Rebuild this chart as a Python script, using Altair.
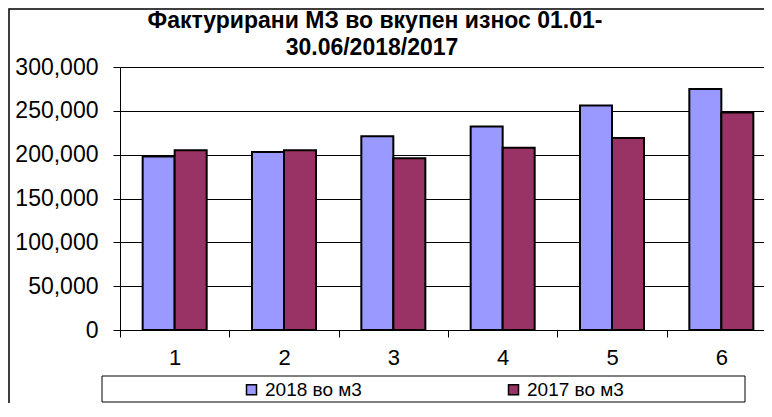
import altair as alt
import pandas as pd

# ---- data ----
months = ["1", "2", "3", "4", "5", "6"]
series_names = ["2018 во м3", "2017 во м3"]
values_2018 = [198000, 203000, 221000, 232000, 256000, 275000]
values_2017 = [205000, 205000, 196000, 208000, 219000, 248000]
series_colors = ["#9999FF", "#993366"]
title_lines = ["Фактурирани МЗ во вкупен износ 01.01-", "30.06/2018/2017"]

rows = []
for m, v in zip(months, values_2018):
    rows.append({"month": m, "series": series_names[0], "value": v})
for m, v in zip(months, values_2017):
    rows.append({"month": m, "series": series_names[1], "value": v})
df = pd.DataFrame(rows)

NARROW = "Liberation Sans Narrow, Arial Narrow, Liberation Sans, sans-serif"
SANS = "Liberation Sans, Arial, sans-serif"

bars = alt.Chart(df).mark_bar(stroke="black", strokeWidth=2).encode(
    x=alt.X(
        "month:N",
        sort=months,
        scale=alt.Scale(paddingInner=0, paddingOuter=0),
        axis=alt.Axis(
            title=None,
            labelAngle=0,
            tickBand="extent",
            tickSize=7,
            tickColor="black",
            domainColor="black",
            labelFont=SANS,
            labelFontSize=22,
            labelColor="black",
            labelPadding=10,
            grid=False,
        ),
    ),
    xOffset=alt.XOffset(
        "series:N",
        sort=series_names,
        scale=alt.Scale(paddingInner=0, paddingOuter=0.708),
    ),
    y=alt.Y(
        "value:Q",
        scale=alt.Scale(domain=[0, 300000], nice=False),
        axis=alt.Axis(
            title=None,
            values=[0, 50000, 100000, 150000, 200000, 250000, 300000],
            format=",d",
            tickSize=7,
            tickColor="black",
            domainColor="black",
            gridColor="black",
            gridWidth=1,
            labelFont=SANS,
            labelFontSize=23,
            labelColor="black",
            labelPadding=15,
        ),
    ),
    color=alt.Color(
        "series:N",
        sort=series_names,
        scale=alt.Scale(domain=series_names, range=series_colors),
        legend=alt.Legend(
            title=None,
            orient="none",
            direction="horizontal",
            legendX=122,
            legendY=313,
            symbolType="square",
            symbolSize=100,
            symbolStrokeColor="black",
            symbolStrokeWidth=1.5,
            labelFont=NARROW,
            labelFontSize=19,
            labelColor="black",
            labelOffset=4,
            columnPadding=142,
            padding=0,
        ),
    ),
)

one = pd.DataFrame({"k": [0]})

legend_box = alt.Chart(one).mark_rect(
    fill="white", stroke="black", strokeWidth=1
).encode(
    x=alt.value(-18), x2=alt.value(625), y=alt.value(309), y2=alt.value(335)
)

outer_border = alt.Chart(one).mark_rect(
    fill="transparent", stroke="black", strokeWidth=1.5
).encode(
    x=alt.value(-111), x2=alt.value(900), y=alt.value(-58), y2=alt.value(600)
)

title_1 = alt.Chart(one).mark_text(
    text=title_lines[0], font=NARROW, fontSize=23, fontWeight="bold",
    color="black", align="center", baseline="middle",
).encode(x=alt.value(255), y=alt.value(-46))

title_2 = alt.Chart(one).mark_text(
    text=title_lines[1], font=NARROW, fontSize=23, fontWeight="bold",
    color="black", align="center", baseline="middle",
).encode(x=alt.value(252), y=alt.value(-19))

chart = alt.layer(outer_border, legend_box, bars, title_1, title_2).properties(
    width=656,
    height=263,
    padding={"left": 112, "top": 59, "right": -12, "bottom": 73},
    autosize=alt.AutoSizeParams(type="none"),
).configure_view(
    fill="#C0C0C0", stroke="transparent"
).configure(background="white")

chart.save("out.html", embed_options={"renderer": "svg", "actions": False})
